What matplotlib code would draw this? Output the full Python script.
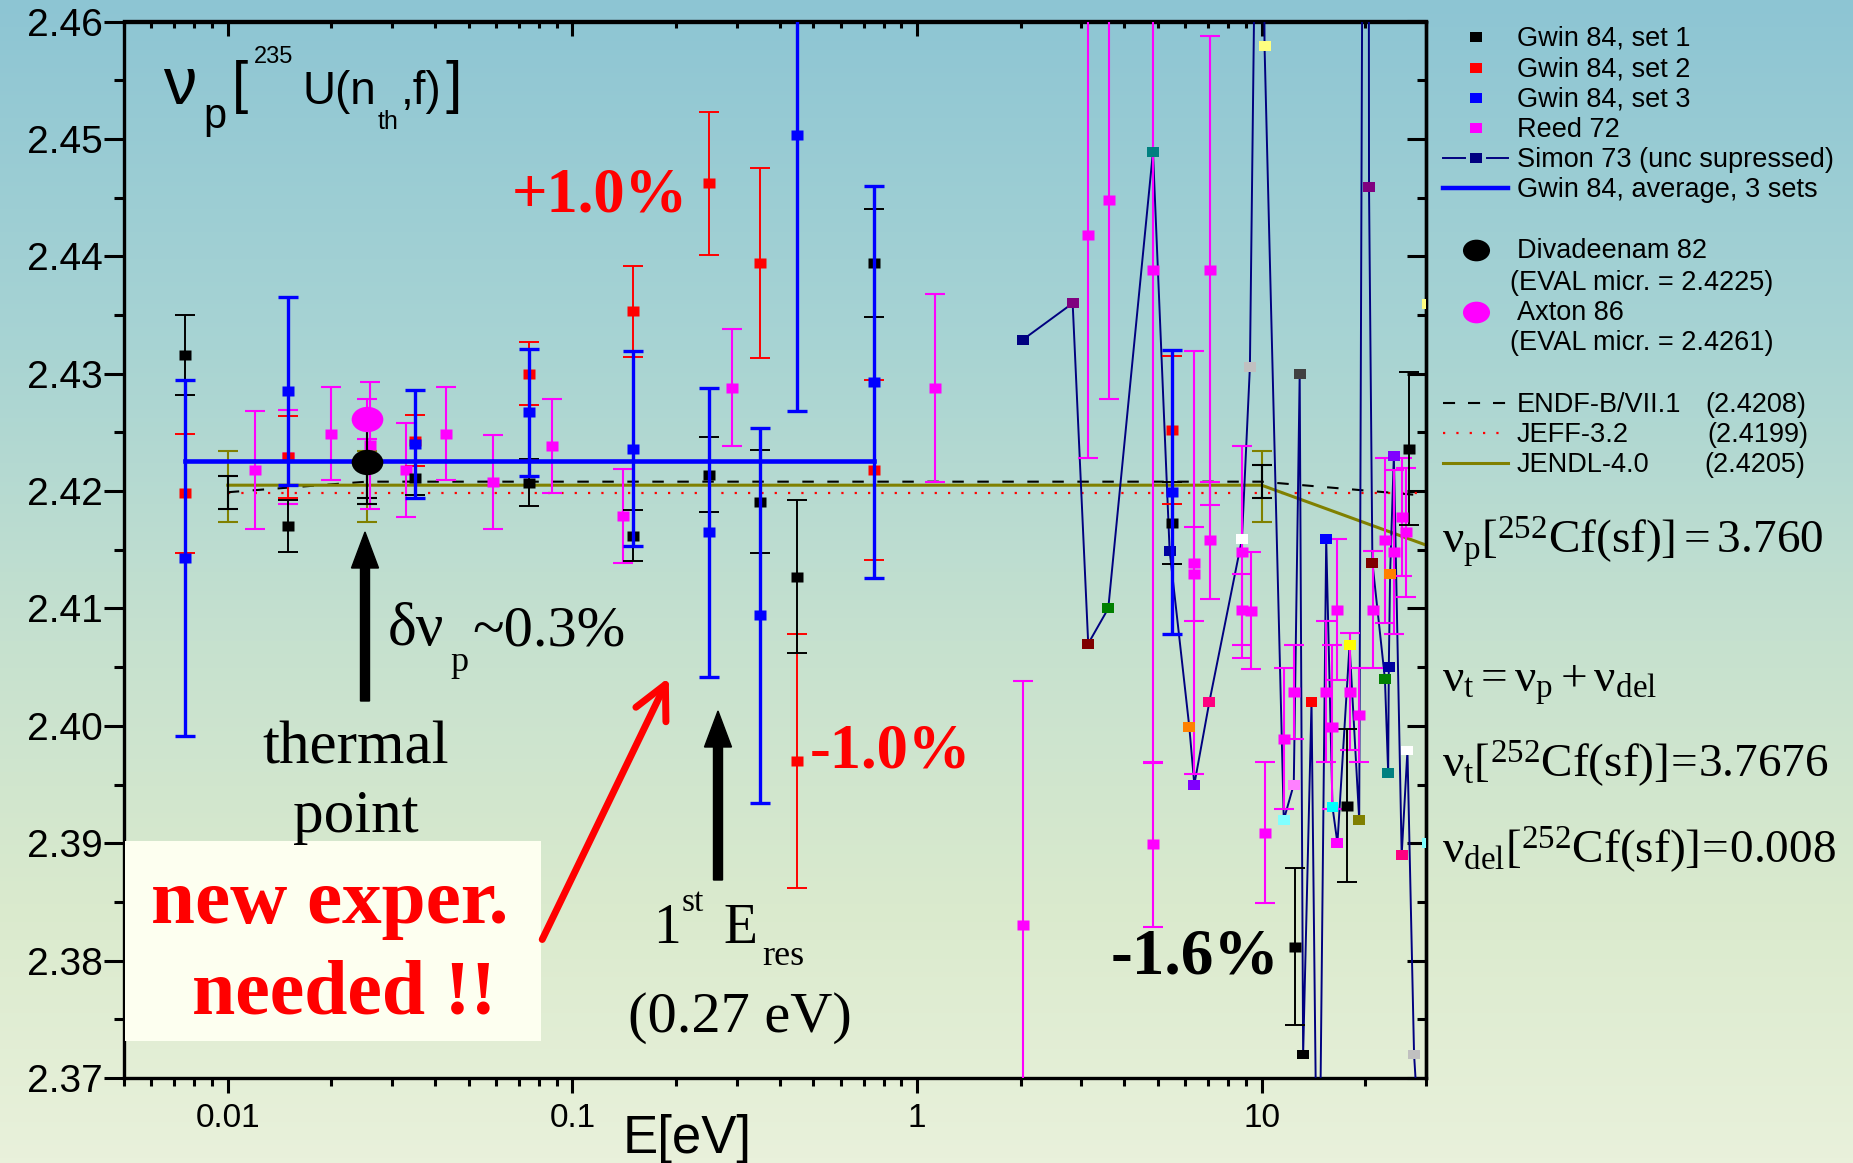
import matplotlib

matplotlib.use("Agg")

import matplotlib.pyplot as plt
import numpy as np
from matplotlib.colors import LinearSegmentedColormap
from matplotlib.patches import FancyArrow, FancyArrowPatch, Rectangle
from matplotlib.path import Path
from matplotlib.ticker import FixedLocator, MultipleLocator, NullFormatter

# ---- data ---------------------------------------------------------------
GWIN_E = [0.0075, 0.015, 0.035, 0.075, 0.15, 0.25, 0.35, 0.45, 0.75, 5.48]
SET1_E = GWIN_E + [12.5, 17.7, 26.8]
SET1_NU = [2.4316, 2.4170, 2.4211, 2.4207, 2.4162, 2.4214, 2.4191, 2.4127,
           2.4394, 2.4173, 2.3812, 2.3932, 2.4236]
SET1_ERR = [0.0034, 0.0022, 0.0014, 0.0020, 0.0022, 0.0032, 0.0044, 0.0065,
            0.0046, 0.0035, 0.0067, 0.0065, 0.0065]
SET2_NU = [2.4198, 2.4229, 2.4243, 2.4300, 2.4353, 2.4462, 2.4394, 2.3970,
           2.4218, 2.4252]
SET2_ERR = [0.0051, 0.0035, 0.0022, 0.0027, 0.0039, 0.0061, 0.0081, 0.0108,
            0.0077, 0.0063]
SET3_NU = [2.4143, 2.4285, 2.4240, 2.4267, 2.4236, 2.4165, 2.4094, 2.4503,
           2.4293, 2.4199]
SET3_ERR = [0.0152, 0.0080, 0.0046, 0.0054, 0.0083, 0.0123, 0.0160, 0.0235,
            0.0167, 0.0121]

REED_E = [0.012, 0.015, 0.020, 0.0258, 0.033, 0.043, 0.059, 0.087, 0.14, 0.29,
          1.13, 2.03, 3.14, 3.61, 4.85, 4.85, 6.38, 6.38, 7.08, 7.08, 8.77,
          8.77, 9.31, 10.2, 11.6, 12.4, 15.4, 16.06, 16.6, 18.0, 19.2, 21.0,
          22.8, 24.2, 25.6, 26.3]
REED_NU = [2.4218, 2.4229, 2.4249, 2.4239, 2.4218, 2.4249, 2.4208, 2.4238,
           2.4179, 2.4288, 2.4288, 2.3830, 2.4418, 2.4448, 2.4388, 2.3899,
           2.4139, 2.4129, 2.4388, 2.4158, 2.4148, 2.4099, 2.4098, 2.3909,
           2.3989, 2.4029, 2.4029, 2.3999, 2.4099, 2.4029, 2.4009, 2.4099,
           2.4158, 2.4148, 2.4178, 2.4165]
REED_ERR = [0.0050, 0.0040, 0.0040, 0.0054, 0.0040, 0.0040, 0.0040, 0.0040,
            0.0040, 0.0050, 0.0080, 0.0208, 0.0190, 0.0170, 0.0420, 0.0070,
            0.0180, 0.0040, 0.0200, 0.0050, 0.0090, 0.0030, 0.0050, 0.0060,
            0.0060, 0.0040, 0.0060, 0.0070, 0.0060, 0.0050, 0.0040, 0.0050,
            0.0070, 0.0070, 0.0050, 0.0055]

SIMON_E = [2.03, 2.83, 3.14, 3.59, 4.84, 5.41, 6.17, 6.38, 7.05, 8.77, 9.25,
           10.0, 10.2, 11.6, 12.4, 12.9, 13.2, 13.96, 14.6, 15.4, 16.06, 16.6,
           18.0, 19.2, 20.3, 20.5, 20.97, 22.8, 23.3, 23.4, 23.6, 24.2, 25.5,
           26.5, 27.7, 30.8, 30.4, 30.4]
SIMON_NU = [2.4329, 2.4360, 2.4070, 2.4100, 2.4489, 2.4149, 2.3999, 2.3950,
            2.4020, 2.4159, 2.4306, 2.5150, 2.4579, 2.3920, 2.3950, 2.4300,
            2.3720, 2.4020, 2.3500, 2.4159, 2.3931, 2.3900, 2.4069, 2.3920,
            2.5900, 2.4459, 2.4139, 2.4040, 2.3960, 2.4050, 2.4129, 2.4230,
            2.3890, 2.3979, 2.3720, 2.3500, 2.4359, 2.3900]
SIMON_COLORS = ["#000080", "#800080", "#800000", "#008000", "#008080",
                "#0000A0", "#FF8000", "#8000FF", "#FF0080", "#FFFFFF",
                "#C0C0C0", "#808080", "#FFFF80", "#80FFFF", "#FF80FF",
                "#404040", "#000000", "#FF0000", "#008000", "#0000FF",
                "#00FFFF", "#FF00FF", "#FFFF00", "#808000", "#000080",
                "#800080", "#800000", "#008000", "#008080", "#0000A0",
                "#FF8000", "#8000FF", "#FF0080", "#FFFFFF", "#C0C0C0",
                "#808080", "#FFFF80", "#80FFFF"]

GWIN_AVG_E = [0.0075, 0.75]
GWIN_AVG_NU = [2.4226, 2.4226]

THERMAL_E = 0.0253
DIVADEENAM = (2.4225, 0.0036)
AXTON = (2.4261, 0.0017)

ENDF_E = [0.01, 0.0253, 10.0, 25.0, 30.0]
ENDF_NU = [2.4199, 2.4208, 2.4208, 2.4198, 2.4196]
JEFF_E = [0.01, 30.0]
JEFF_NU = [2.4198, 2.4198]
JENDL_E = [0.01, 10.0, 30.0]
JENDL_NU = [2.4205, 2.4205, 2.4154]
EVAL_ERR_E = [0.01, 0.0253, 10.0]
ENDF_ERR_NU = [2.4199, 2.4208, 2.4208]
JENDL_ERR_NU = [2.4204, 2.4204, 2.4204]

X_TICKS = [0.01, 0.1, 1, 10]
X_TICK_LABELS = ["0.01", "0.1", "1", "10"]
Y_TICKS = [2.37, 2.38, 2.39, 2.40, 2.41, 2.42, 2.43, 2.44, 2.45, 2.46]

# ---- styling --------------------------------------------------------------
W, H = 1853, 1163
SANS = "Liberation Sans"
SERIF = "Liberation Serif"
plt.rcParams["font.family"] = [SANS, "DejaVu Sans"]
plt.rcParams["mathtext.fontset"] = "custom"
plt.rcParams["mathtext.rm"] = SERIF
plt.rcParams["mathtext.it"] = SERIF + ":italic"
plt.rcParams["mathtext.bf"] = SERIF + ":bold"

# slightly wide square / ellipse markers (the source picture is stretched)
RECT = Path([(-0.6, -0.5), (0.6, -0.5), (0.6, 0.5), (-0.6, 0.5), (-0.6, -0.5)],
            [Path.MOVETO, Path.LINETO, Path.LINETO, Path.LINETO, Path.CLOSEPOLY])
_circ = Path.unit_circle()
ELL = Path(_circ.vertices * np.array([1.25, 1.0]), _circ.codes)

NAVY = "#000080"
OLIVE = "#808000"
MAGENTA = "#FF00FF"

fig = plt.figure(figsize=(W / 100, H / 100), dpi=100)

# background gradient
bg = fig.add_axes([0, 0, 1, 1], zorder=0)
grad = LinearSegmentedColormap.from_list(
    "bg", [(0.0, "#8DC5D3"), (0.30, "#A8D4D3"), (0.55, "#C6E1CF"),
           (0.78, "#DAEACD"), (1.0, "#E9F1DB")])
bg.imshow(np.linspace(0, 1, 256).reshape(-1, 1), cmap=grad, aspect="auto",
          extent=[0, 1, 0, 1], origin="upper")
bg.axis("off")

# main axes
ax = fig.add_axes([124 / W, 1 - 1078 / H, (1426 - 124) / W, (1078 - 21.5) / H],
                  zorder=2)
ax.patch.set_alpha(0)
ax.set_xscale("log")
ax.set_xlim(0.005, 30)
ax.set_ylim(2.37, 2.46)


def draw_set(E, nu, err, color, lw, ms=8.6, marker=RECT, zorder=3):
    ax.errorbar(E, nu, yerr=err, linestyle="none", marker=marker, ms=ms,
                mfc=color, mec="none", ecolor=color, elinewidth=lw,
                capsize=7.2, capthick=lw, zorder=zorder)


# evaluations
ax.plot(JEFF_E, JEFF_NU, color="red", lw=1.6, linestyle=(0, (1, 5)), zorder=2)
ax.plot(ENDF_E, ENDF_NU, color="black", lw=1.5, linestyle=(0, (5.5, 6.5)), zorder=2)
ax.plot(JENDL_E, JENDL_NU, color=OLIVE, lw=2.2, zorder=2)
ax.errorbar(EVAL_ERR_E, JENDL_ERR_NU, yerr=0.003, fmt="none", ecolor=OLIVE,
            elinewidth=1.5, capsize=7.2, capthick=1.5, zorder=2)
ax.errorbar(EVAL_ERR_E, ENDF_ERR_NU, yerr=0.0014, fmt="none", ecolor="black",
            elinewidth=1.5, capsize=7.2, capthick=1.5, zorder=2)

# Simon 73
ax.plot(SIMON_E, SIMON_NU, color=NAVY, lw=1.4, zorder=3)
ax.scatter(SIMON_E, SIMON_NU, marker=RECT, s=8.6 ** 2, c=SIMON_COLORS,
           linewidths=0, zorder=4)

draw_set(REED_E, REED_NU, REED_ERR, MAGENTA, 1.5)
draw_set(GWIN_E, SET2_NU, SET2_ERR, "red", 1.4)
draw_set(SET1_E, SET1_NU, SET1_ERR, "black", 1.4)
draw_set(GWIN_E, SET3_NU, SET3_ERR, "blue", 2.4, zorder=4)

ax.plot(GWIN_AVG_E, GWIN_AVG_NU, color="blue", lw=3.3, zorder=5)

draw_set([THERMAL_E], [AXTON[0]], [AXTON[1]], MAGENTA, 1.5, ms=22.8,
         marker=ELL, zorder=6)
draw_set([THERMAL_E], [DIVADEENAM[0]], [DIVADEENAM[1]], "black", 1.5,
         ms=22.8, marker=ELL, zorder=6)

# ticks
ax.xaxis.set_major_locator(FixedLocator(X_TICKS))
ax.set_xticklabels(X_TICK_LABELS)
ax.xaxis.set_minor_formatter(NullFormatter())
ax.set_yticks(Y_TICKS)
ax.set_yticklabels([f"{v:.2f}" for v in Y_TICKS])
ax.yaxis.set_minor_locator(MultipleLocator(0.005))
ax.tick_params(axis="x", which="major", direction="out", length=10.8,
               width=2.2, labelsize=24, pad=7)
ax.tick_params(axis="x", which="minor", direction="out", length=5.8, width=2.2)
ax.tick_params(axis="y", which="major", direction="out", length=14.4,
               width=2.2, labelsize=28, pad=1)
ax.tick_params(axis="y", which="minor", direction="out", length=7.2, width=2.2)
for sp in ax.spines.values():
    sp.set_linewidth(2.4)

secx = ax.secondary_xaxis("top")
secx.xaxis.set_major_locator(FixedLocator(X_TICKS))
secx.xaxis.set_major_formatter(NullFormatter())
secx.xaxis.set_minor_formatter(NullFormatter())
secx.tick_params(which="major", direction="in", length=10.8, width=2.2)
secx.tick_params(which="minor", direction="in", length=5.0, width=2.2)
secy = ax.secondary_yaxis("right")
secy.yaxis.set_major_locator(MultipleLocator(0.01))
secy.yaxis.set_minor_locator(MultipleLocator(0.005))
secy.yaxis.set_major_formatter(NullFormatter())
secy.tick_params(which="major", direction="in", length=13.7, width=2.2)
secy.tick_params(which="minor", direction="in", length=6.5, width=2.2)
for sec in (secx, secy):
    for sp in sec.spines.values():
        sp.set_linewidth(2.4)

# ---- overlay in pixel coordinates for annotations and legend -------------
ov = fig.add_axes([0, 0, 1, 1], zorder=3)
ov.set_xlim(0, W)
ov.set_ylim(H, 0)
ov.axis("off")
ov.patch.set_alpha(0)


def txt(x, y, s, size, family=SERIF, **kw):
    kw.setdefault("va", "baseline")
    ov.text(x, y, s, fontsize=size, family=family, **kw)


# title nu_p[235U(n_th,f)]
txt(163, 104, "\u03bd", 48, SANS)
txt(203, 128, "p", 30, SANS)
txt(232, 102, "[", 42, SANS)
txt(254, 63, "235", 17, SANS)
txt(302, 104, "U(n", 33, SANS)
txt(378, 129, "th", 18, SANS)
txt(401, 104, ",f)", 33, SANS)
txt(446, 102, "]", 42, SANS)

# percentage notes
txt(512, 211, "+1.0%", 45, weight="bold", color="red")
txt(810, 768, "-1.0%", 45, weight="bold", color="red")
txt(1111, 974, "-1.6%", 47, weight="bold", color="black")

# thermal point
txt(388, 645, "\u03b4\u03bd", 44)
txt(450, 671, "p", 26)
txt(472, 645, "~0.3%", 42)
txt(356, 764, "thermal", 44, ha="center")
txt(356, 832, "point", 44, ha="center")
ov.add_patch(FancyArrow(365, 701, 0, -169, width=9, head_width=27,
                        head_length=36, length_includes_head=True,
                        color="black", zorder=4))

# first resonance
txt(653, 943, "1", 40)
txt(682, 911, "st", 24)
txt(723, 943, "E", 40)
txt(762, 965, "res", 26)
txt(740, 1032, "(0.27 eV)", 42, ha="center")
ov.add_patch(FancyArrow(718, 880, 0, -169, width=9, head_width=27,
                        head_length=36, length_includes_head=True,
                        color="black", zorder=4))

# new experiments box
ov.add_patch(Rectangle((125, 841), 416, 200, facecolor="#FDFFF0",
                       edgecolor="none", zorder=2))
txt(330, 923, "new exper.", 57, weight="bold", color="red", ha="center",
    zorder=5)
txt(344, 1013, "needed !!", 56, weight="bold", color="red", ha="center",
    zorder=5)
ov.add_patch(FancyArrowPatch((541, 942), (670, 675),
                             arrowstyle="->,head_length=1.2,head_width=0.6",
                             mutation_scale=20, lw=5, color="red", zorder=4))

# axis label
txt(623, 1153, "E[eV]", 38, SANS)

# Cf-252 block
txt(1442, 553, r"$\mathrm{\nu_p[^{252}Cf(sf)] = 3.760}$", 34)
txt(1442, 692, r"$\mathrm{\nu_t = \nu_p + \nu_{del}}$", 34)
txt(1442, 777, r"$\mathrm{\nu_t[^{252}Cf(sf)]\!=\!3.7676}$", 34)
txt(1442, 863, r"$\mathrm{\nu_{del}[^{252}Cf(sf)]\!=\!0.008}$", 34)

# legend
LX0, LX1, LM, LT = 1443, 1508, 1475.7, 1516.7
LEG = 19.5


def leg_text(y, s, x=LT):
    txt(x, y + 8.5, s, LEG, SANS)


rows = [(36.7, "black", "Gwin 84, set 1"), (68.3, "red", "Gwin 84, set 2"),
        (98.3, "blue", "Gwin 84, set 3"), (128.3, MAGENTA, "Reed 72")]
for y, c, lab in rows:
    ov.plot([LM], [y], marker=RECT, ms=8.6, color=c, mew=0)
    leg_text(y, lab)

ov.plot([LX0, 1465], [158.3, 158.3], color=NAVY, lw=1.4)
ov.plot([1487, LX1], [158.3, 158.3], color=NAVY, lw=1.4)
ov.plot([LM], [158.3], marker=RECT, ms=8.6, color=NAVY, mew=0)
leg_text(158.3, "Simon 73 (unc supressed)")

ov.plot([LX0, LX1], [188.3, 188.3], color="blue", lw=3.2)
leg_text(188.3, "Gwin 84, average, 3 sets")

ov.plot([LM], [250], marker=ELL, ms=19.5, color="black", mew=0)
leg_text(250, "Divadeenam 82")
leg_text(281.7, "(EVAL micr. = 2.4225)", x=1510)
ov.plot([LM], [311.7], marker=ELL, ms=19.5, color=MAGENTA, mew=0)
leg_text(311.7, "Axton 86")
leg_text(341.7, "(EVAL micr. = 2.4261)", x=1510)

ov.plot([LX0, 1506], [403.3, 403.3], color="black", lw=1.5,
        linestyle=(0, (5.8, 6.2)))
leg_text(403.3, "ENDF-B/VII.1")
leg_text(403.3, "(2.4208)", x=1705)
ov.plot([LX0, LX1], [433.3, 433.3], color="red", lw=1.6, linestyle=(0, (1, 5)))
leg_text(433.3, "JEFF-3.2")
leg_text(433.3, "(2.4199)", x=1707)
ov.plot([LX0, LX1], [463.3, 463.3], color=OLIVE, lw=2.2)
leg_text(463.3, "JENDL-4.0")
leg_text(463.3, "(2.4205)", x=1704)

fig.savefig("out.png", dpi=100)
